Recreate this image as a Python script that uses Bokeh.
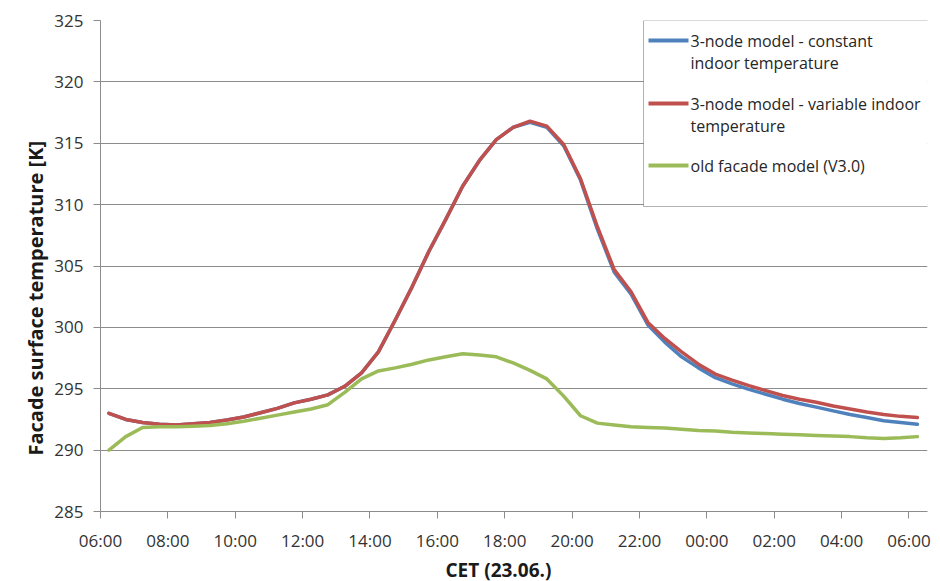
from bokeh.plotting import figure
from bokeh.models import FixedTicker, BoxAnnotation, Label, Range1d, Title
from bokeh.embed import file_html
from bokeh.resources import INLINE

# Time of day in hours since 00:00 on 23.06. (values past 24 belong to the next morning)
hours = [6.25, 6.75, 7.25, 7.75, 8.25, 8.75, 9.25, 9.75, 10.25, 10.75,
         11.25, 11.75, 12.25, 12.75, 13.25, 13.75, 14.25, 14.75, 15.25, 15.75,
         16.25, 16.75, 17.25, 17.75, 18.25, 18.75, 19.25, 19.75, 20.25, 20.75,
         21.25, 21.75, 22.25, 22.75, 23.25, 23.75, 24.25, 24.75, 25.25, 25.75,
         26.25, 26.75, 27.25, 27.75, 28.25, 28.75, 29.25, 29.75, 30.25]

# Facade surface temperature [K]
const_indoor = [293.0, 292.5, 292.25, 292.1, 292.05, 292.15, 292.25, 292.45, 292.7, 293.05,
                293.4, 293.85, 294.15, 294.5, 295.2, 296.3, 298.0, 300.6, 303.3, 306.2,
                308.8, 311.5, 313.6, 315.3, 316.3, 316.7, 316.3, 314.8, 312.0, 308.0,
                304.5, 302.7, 300.2, 298.8, 297.6, 296.7, 295.9, 295.4, 294.95, 294.55,
                294.15, 293.8, 293.5, 293.2, 292.9, 292.65, 292.4, 292.25, 292.1]

var_indoor = [293.0, 292.5, 292.25, 292.1, 292.05, 292.15, 292.25, 292.45, 292.7, 293.05,
              293.4, 293.85, 294.15, 294.5, 295.2, 296.3, 298.0, 300.6, 303.3, 306.2,
              308.8, 311.5, 313.6, 315.3, 316.3, 316.8, 316.4, 314.9, 312.1, 308.2,
              304.7, 302.9, 300.4, 299.1, 298.0, 297.0, 296.2, 295.7, 295.25, 294.85,
              294.45, 294.15, 293.9, 293.6, 293.35, 293.1, 292.9, 292.75, 292.65]

old_model = [290.0, 291.1, 291.85, 291.9, 291.9, 291.95, 292.0, 292.15, 292.35, 292.6,
             292.85, 293.1, 293.35, 293.7, 294.7, 295.8, 296.45, 296.7, 297.0, 297.35,
             297.6, 297.85, 297.75, 297.6, 297.1, 296.5, 295.8, 294.4, 292.8, 292.2,
             292.05, 291.9, 291.85, 291.8, 291.7, 291.6, 291.55, 291.45, 291.4, 291.35,
             291.3, 291.25, 291.2, 291.15, 291.1, 291.0, 290.95, 291.0, 291.1]

series_names = ["3-node model - constant\nindoor temperature",
                "3-node model - variable indoor\ntemperature",
                "old facade model (V3.0)"]
series_colors = ["#4F81BD", "#C0504D", "#9BBB59"]

tick_hours = [6, 8, 10, 12, 14, 16, 18, 20, 22, 24, 26, 28, 30]
tick_labels = ["06:00", "08:00", "10:00", "12:00", "14:00", "16:00", "18:00",
               "20:00", "22:00", "00:00", "02:00", "04:00", "06:00"]
y_ticks = [285, 290, 295, 300, 305, 310, 315, 320, 325]

x_title = "CET (23.06.)"
y_title = "Facade surface temperature [K]"

FONT = "Open Sans"
GRID = "#8c8c8c"
FH = 491  # frame height in px

p = figure(width=940, height=581, frame_width=827, frame_height=FH,
           min_border_left=100, min_border_right=13, min_border_top=20, min_border_bottom=70,
           x_range=Range1d(6, 30.55), y_range=Range1d(285, 325),
           output_backend="svg", toolbar_location=None,
           background_fill_color="white", border_fill_color="white")
p.outline_line_color = None

# axes
p.xaxis.ticker = FixedTicker(ticks=tick_hours)
p.xaxis.major_label_overrides = {h: lab for h, lab in zip(tick_hours, tick_labels)}
p.yaxis.ticker = FixedTicker(ticks=y_ticks)
for ax in (p.xaxis[0], p.yaxis[0]):
    ax.axis_line_color = GRID
    ax.major_tick_line_color = GRID
    ax.major_tick_in = 0
    ax.major_tick_out = 7
    ax.minor_tick_line_color = None
    ax.major_label_text_font = FONT
    ax.major_label_text_font_size = "17px"
    ax.major_label_text_color = "#333333"
p.yaxis.major_label_standoff = 10
p.xaxis.major_label_standoff = 10

p.xgrid.grid_line_color = None
p.ygrid.grid_line_color = GRID
p.ygrid.grid_line_width = 1

# axis titles as side-panel titles so they can be shifted along the axis
p.add_layout(Title(text=y_title, align="left", offset=56, standoff=6,
                   text_font=FONT, text_font_size="20px", text_font_style="bold",
                   text_color="#1a1a1a"), "left")
p.add_layout(Title(text=x_title, align="left", offset=345, standoff=0,
                   text_font=FONT, text_font_size="19px", text_font_style="bold",
                   text_line_height=1.0, text_color="#1a1a1a"), "below")

# series
for ys, col in zip([const_indoor, var_indoor, old_model], series_colors):
    p.line(hours, ys, line_color=col, line_width=3.5, line_join="round", line_cap="round")

# legend box
p.add_layout(BoxAnnotation(left=543, right=860, top=FH, bottom=FH - 186,
                           left_units="screen", right_units="screen",
                           top_units="screen", bottom_units="screen",
                           fill_color="white", fill_alpha=1.0,
                           line_color="black", line_width=1, level="overlay"))

row_tops = [40, 103, 165]
for name, col, ytop in zip(series_names, series_colors, row_tops):
    p.add_layout(BoxAnnotation(left=548, right=588, top=FH + 20 - ytop + 2,
                               bottom=FH + 20 - ytop - 2,
                               left_units="screen", right_units="screen",
                               top_units="screen", bottom_units="screen",
                               fill_color=col, fill_alpha=1.0, line_color=None,
                               level="overlay"))
    for k, line in enumerate(name.split("\n")):
        p.add_layout(Label(x=590, y=FH + 20 - ytop - 22.5 * k, x_units="screen", y_units="screen",
                           text=line, text_font=FONT, text_font_size="16px",
                           text_color="#262626", text_baseline="middle", level="overlay"))

open("out.html", "w").write(file_html(p, INLINE))
